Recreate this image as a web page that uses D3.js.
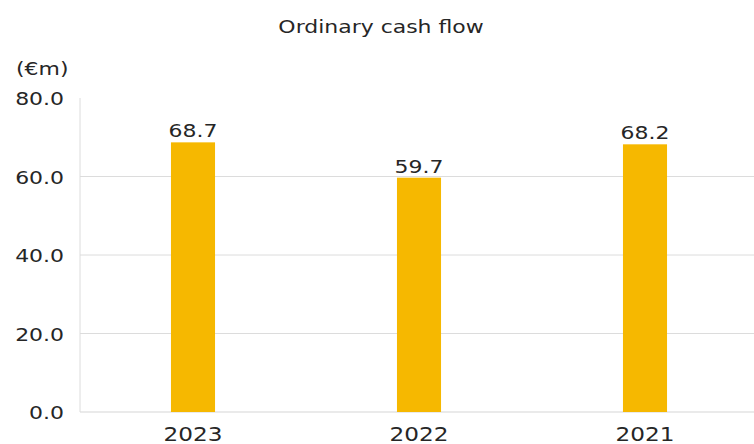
<!DOCTYPE html>
<html><head><meta charset="utf-8">
<script src="https://cdn.jsdelivr.net/npm/d3@7"></script>
<style>
html,body{margin:0;padding:0;background:#fff;}
text{font-family:"DejaVu Sans",sans-serif;fill:#262626;}
</style></head>
<body>
<svg id="c" width="754" height="444"></svg>
<script>
const categories = ["2023", "2022", "2021"];
const values = [68.7, 59.7, 68.2];
const yTicks = [0, 20, 40, 60, 80];
const title = "Ordinary cash flow";
const unit = "(€m)";

(function () {
const svg = d3.select("#c");
const sx = 1.22;
const mLeft = 80, mRight = 758, mTop = 98, mBottom = 412;
const x = d3.scaleBand().domain(categories).range([mLeft, mRight]).paddingInner(0.805).paddingOuter(0.4025);
const y = d3.scaleLinear().domain([0, 80]).range([mBottom, mTop]);
const tf = (px, py) => `translate(${px},${py}) scale(${sx},1)`;

svg.append("g").selectAll("line").data(yTicks.filter(d => d > 0 && d < 80)).join("line")
  .attr("x1", mLeft).attr("x2", 754).attr("y1", d => y(d)).attr("y2", d => y(d))
  .attr("stroke", "#dcdcdc").attr("stroke-width", 1);
svg.append("line").attr("x1", mLeft).attr("x2", 754).attr("y1", y(0)).attr("y2", y(0))
  .attr("stroke", "#d6d6d6").attr("stroke-width", 1.2);
svg.append("line").attr("x1", mLeft).attr("x2", mLeft).attr("y1", y(80)).attr("y2", y(0))
  .attr("stroke", "#dcdcdc").attr("stroke-width", 1);

svg.append("g").selectAll("text").data(yTicks).join("text")
  .attr("transform", d => tf(64, y(d) + 1)).attr("dy", "0.35em")
  .attr("text-anchor", "end").attr("font-size", 18)
  .text(d => d3.format(".1f")(d));

svg.append("g").selectAll("rect").data(values).join("rect")
  .attr("x", (d, i) => x(categories[i])).attr("width", x.bandwidth())
  .attr("y", d => y(d)).attr("height", d => y(0) - y(d))
  .attr("fill", "#F6B800");

svg.append("g").selectAll("text").data(values).join("text")
  .attr("transform", (d, i) => tf(x(categories[i]) + x.bandwidth() / 2, y(d) - 5))
  .attr("text-anchor", "middle").attr("font-size", 18)
  .text(d => d3.format(".1f")(d));

svg.append("g").selectAll("text").data(categories).join("text")
  .attr("transform", d => tf(x(d) + x.bandwidth() / 2, 441))
  .attr("text-anchor", "middle").attr("font-size", 19)
  .text(d => d);

svg.append("text").attr("transform", tf(381, 33)).attr("text-anchor", "middle")
  .attr("font-size", 18).text(title);
svg.append("text").attr("transform", tf(16, 75)).attr("font-size", 18).text(unit);
})();
</script>
</body></html>
